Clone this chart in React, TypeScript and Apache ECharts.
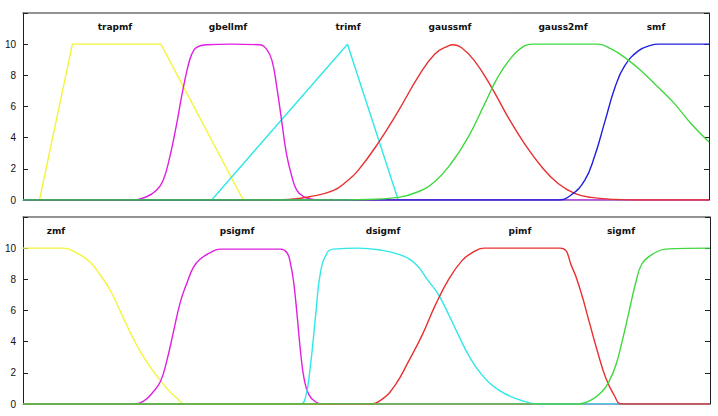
import React, { useEffect, useRef } from "react";
import * as echarts from "echarts";

// ---- data (x: 0..100 across the panel, y: membership ×10) ----
const topNames = ["trapmf", "gbellmf", "trimf", "gaussmf", "gauss2mf", "smf"];
const bottomNames = ["zmf", "psigmf", "dsigmf", "pimf", "sigmf"];

const trapmf: number[][] = [[0, 0], [2.4, 0], [7.2, 10], [20.1, 10], [32.1, 0], [100, 0]];
const gbellmf: number[][] = [[0, 0], [15.6, 0], [18.0, 0.21], [19.5, 0.64], [20.45, 1.28], [21.4, 2.77], [22.4, 4.89], [23.1, 6.6], [23.9, 8.3], [24.6, 9.36], [25.3, 9.79], [26.8, 9.96], [30.4, 10], [34.5, 9.96], [35.5, 9.68], [36.3, 8.94], [37.0, 7.23], [37.7, 5.1], [38.4, 2.98], [39.2, 1.49], [39.9, 0.64], [40.9, 0.21], [42.3, 0.04], [44.0, 0], [100, 0]];
const trimf: number[][] = [[0, 0], [27.5, 0], [47.3, 10], [54.7, 0], [100, 0]];
const gaussmf: number[][] = [[0, 0], [35, 0], [38.7, 0.04], [41.8, 0.21], [45.2, 0.6], [47.2, 1.2], [48.8, 1.87], [51.7, 3.6], [54.7, 5.7], [57.6, 7.9], [60.0, 9.36], [62.0, 9.89], [62.7, 9.96], [63.9, 9.79], [65.8, 8.94], [68.3, 7.23], [70.7, 5.32], [73.1, 3.62], [75.6, 2.13], [78.0, 1.06], [80.4, 0.43], [82.8, 0.17], [86.3, 0.04], [90, 0], [100, 0]];
const gauss2mf: number[][] = [[0, 0], [45, 0], [48.8, 0.02], [54.7, 0.17], [57.6, 0.53], [60.0, 1.17], [62.4, 2.34], [64.9, 4.04], [67.3, 6.17], [69.2, 7.87], [71.2, 9.15], [73.1, 9.89], [74.3, 10], [83.8, 10], [85.8, 9.68], [87.7, 9.15], [90.1, 8.3], [92.6, 7.23], [95.0, 6.17], [97.4, 4.89], [100, 3.72]];
const smf: number[][] = [[0, 0], [78.0, 0], [79.9, 0.32], [81.9, 1.28], [83.3, 2.77], [84.8, 5.0], [86.3, 7.23], [87.7, 8.6], [89.7, 9.57], [91.6, 9.94], [92.6, 10], [100, 10]];

const zmf: number[][] = [[0, 10], [5.9, 10], [7.8, 9.7], [9.8, 9.1], [11.2, 8.3], [12.7, 7.3], [14.1, 6.0], [15.6, 4.6], [17.1, 3.35], [19.0, 2.08], [20.9, 1.02], [22.4, 0.38], [23.6, 0], [100, 0]];
const psigmf: number[][] = [[0, 0], [16.1, 0], [17.5, 0.17], [19.0, 0.8], [20.0, 1.44], [20.9, 2.72], [21.9, 4.63], [22.9, 6.54], [23.9, 7.81], [24.8, 8.77], [25.8, 9.3], [27.3, 9.72], [28.7, 9.94], [37.5, 9.94], [38.4, 9.72], [38.9, 9.09], [39.4, 7.81], [39.9, 5.69], [40.4, 3.35], [40.9, 1.66], [41.6, 0.6], [42.6, 0.13], [43.8, 0], [100, 0]];
const dsigmf: number[][] = [[0, 0], [40.4, 0], [41.1, 0.38], [41.8, 2.3], [42.6, 5.7], [43.3, 8.45], [44.3, 9.72], [45.2, 9.94], [48.8, 10], [51.7, 9.9], [54.7, 9.6], [57.1, 9.0], [59.0, 7.9], [60.5, 7.0], [62.0, 5.7], [63.4, 4.4], [64.9, 3.1], [66.8, 1.87], [69.2, 0.91], [72.2, 0.28], [75.1, 0], [100, 0]];
const pimf: number[][] = [[0, 0], [50.3, 0], [52.2, 0.28], [54.2, 1.23], [56.1, 2.72], [58.1, 4.42], [60.0, 6.33], [62.0, 8.03], [63.9, 9.2], [65.4, 9.72], [67.1, 10], [78.2, 10], [79.9, 8.8], [81.2, 7.2], [82.4, 5.3], [83.6, 3.4], [84.8, 1.7], [86.0, 0.6], [87.2, 0], [100, 0]];
const sigmf: number[][] = [[0, 0], [80.9, 0], [82.8, 0.28], [84.3, 0.8], [85.3, 1.44], [86.3, 2.5], [87.2, 4.0], [88.2, 5.9], [89.2, 7.8], [90.1, 9.0], [91.6, 9.6], [93.5, 9.94], [100, 10]];

const yTicks = [0, 2, 4, 6, 8, 10];

const YELLOW = "#f4f43c";
const MAGENTA = "#e020e0";
const CYAN = "#30e8e8";
const RED = "#e83030";
const GREEN = "#40d840";
const BLUE = "#2020e0";

const topSeries = [
  { name: "trapmf", data: trapmf, color: YELLOW, smooth: false },
  { name: "trimf", data: trimf, color: CYAN, smooth: false },
  { name: "gbellmf", data: gbellmf, color: MAGENTA, smooth: true },
  { name: "gaussmf", data: gaussmf, color: RED, smooth: true },
  { name: "smf", data: smf, color: BLUE, smooth: true },
  { name: "gauss2mf", data: gauss2mf, color: GREEN, smooth: true },
];
const bottomSeries = [
  { name: "zmf", data: zmf, color: YELLOW, smooth: true },
  { name: "psigmf", data: psigmf, color: MAGENTA, smooth: true },
  { name: "dsigmf", data: dsigmf, color: CYAN, smooth: true },
  { name: "pimf", data: pimf, color: RED, smooth: true },
  { name: "sigmf", data: sigmf, color: GREEN, smooth: true },
];

const topLabelX = [115, 228, 348, 450, 563, 656];
const bottomLabelX = [56, 237, 383, 520, 621];

export default function App() {
  const ref = useRef<HTMLDivElement>(null);
  useEffect(() => {
    if (!ref.current) return;
    const chart = echarts.init(ref.current, null, { renderer: "svg" });
    const grids = [
      { left: 23, top: 13, width: 686, height: 187 },
      { left: 23, top: 217, width: 687, height: 187 },
    ];
    const xAxes: any[] = [];
    const yAxes: any[] = [];
    grids.forEach((_, i) => {
      xAxes.push({
        type: "value", gridIndex: i, min: 0, max: 100, position: "bottom",
        axisLine: { show: true, lineStyle: { color: "#888", width: 1 } },
        axisTick: { show: false }, axisLabel: { show: false }, splitLine: { show: false },
      });
      xAxes.push({
        type: "value", gridIndex: i, min: 0, max: 100, position: "top",
        axisLine: { show: true, onZero: false, lineStyle: { color: "#707070", width: 1.5 } },
        axisTick: { show: false }, axisLabel: { show: false }, splitLine: { show: false },
      });
      yAxes.push({
        type: "value", gridIndex: i, min: 0, max: 12, interval: 2, position: "left",
        axisLine: { show: true, onZero: false, lineStyle: { color: "#202020", width: 1 } },
        axisTick: { show: true, inside: true, length: 5, lineStyle: { color: "#202020" } },
        axisLabel: {
          show: true, margin: 7, color: "#111", fontSize: 10, fontFamily: "Liberation Sans",
          formatter: (v: number) => (yTicks.includes(v) ? String(v) : ""),
        },
        splitLine: { show: false },
      });
      yAxes.push({
        type: "value", gridIndex: i, min: 0, max: 12, interval: 2, position: "right",
        axisLine: { show: true, onZero: false, lineStyle: { color: "#202020", width: 1 } },
        axisTick: { show: true, inside: true, length: 5, lineStyle: { color: "#202020" } },
        axisLabel: { show: false }, splitLine: { show: false },
      });
    });
    const mk = (s: any, i: number) => ({
      type: "line", name: s.name, data: s.data, xAxisIndex: i * 2, yAxisIndex: i * 2,
      showSymbol: false, symbol: "none", smooth: s.smooth ? 0.45 : false,
      lineStyle: { color: s.color, width: 1.4 }, itemStyle: { color: s.color },
    });
    const series = [
      ...topSeries.map((s) => mk(s, 0)),
      ...bottomSeries.map((s) => mk(s, 1)),
    ];
    const labelStyle = { fill: "#111", fontSize: 9, fontWeight: "bold", fontFamily: "DejaVu Sans", align: "center", verticalAlign: "middle" };
    const graphic = [
      ...topNames.map((n, k) => ({ type: "text", x: topLabelX[k], y: 27, style: { ...labelStyle, text: n } })),
      ...bottomNames.map((n, k) => ({ type: "text", x: bottomLabelX[k], y: 231, style: { ...labelStyle, text: n } })),
    ];
    chart.setOption({
      animation: false,
      backgroundColor: "#ffffff",
      grid: grids,
      xAxis: xAxes,
      yAxis: yAxes,
      series,
      graphic,
    });
    return () => chart.dispose();
  }, []);
  return <div ref={ref} style={{ position: "fixed", left: 0, top: 0, width: 718, height: 416 }} />;
}
